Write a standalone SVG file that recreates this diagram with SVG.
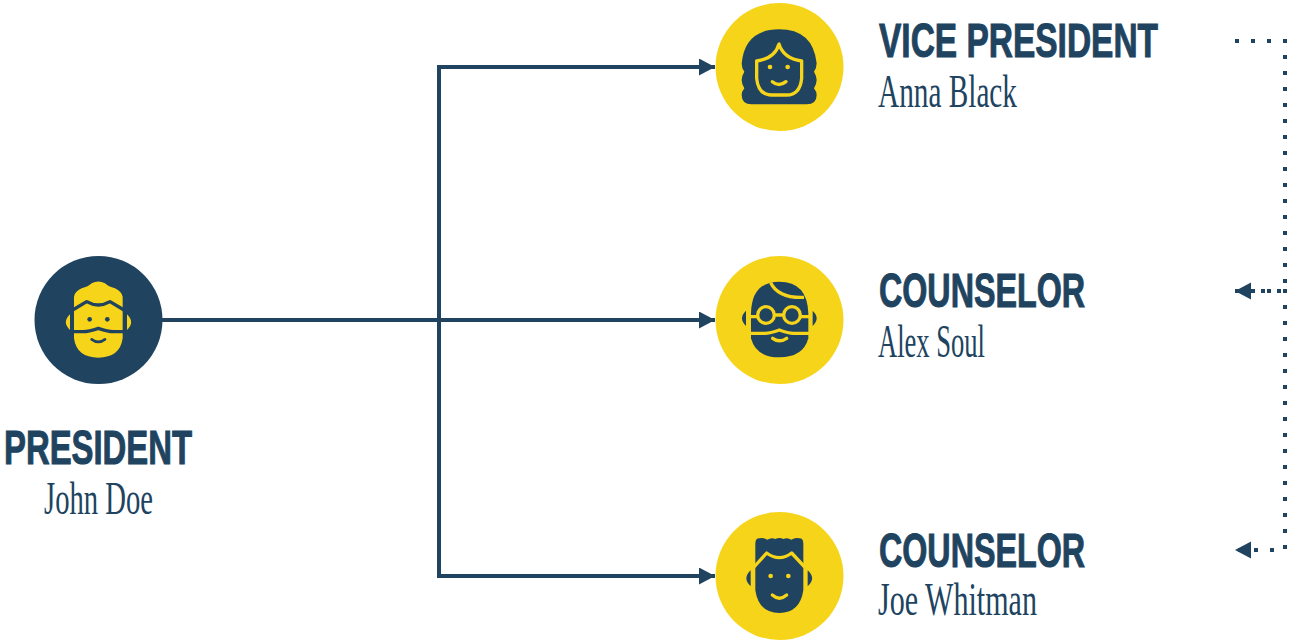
<svg xmlns="http://www.w3.org/2000/svg" width="1289" height="643" viewBox="0 0 1289 643">
<style>
.navy{fill:#20435f}.yel{fill:#f6d41a}
.title{font-family:"Liberation Sans",Arial,sans-serif;font-weight:700;font-size:48px;fill:#20435f;stroke:#20435f;stroke-width:1}
.name{font-family:"Liberation Serif","Times New Roman",serif;font-size:47px;fill:#20435f}
.ln{fill:none;stroke:#20435f;stroke-width:4}
.dot{fill:none;stroke:#20435f;stroke-width:4;stroke-dasharray:4 12}
.sy{fill:none;stroke:#f6d41a;stroke-width:10;stroke-linecap:round;stroke-linejoin:round}
.sn{fill:none;stroke:#20435f;stroke-width:8;stroke-linecap:round;stroke-linejoin:round}
</style>
<defs>
<marker id="ah" markerUnits="userSpaceOnUse" markerWidth="16" markerHeight="18" refX="16" refY="8.500" orient="auto"><path d="M0 0L16 8.500L0 17z" fill="#20435f"/></marker>
</defs>
<g id="connectors">
<path class="ln" d="M162 320H715" marker-end="url(#ah)"/>
<path class="ln" d="M715 67H439V576H715" marker-end="url(#ah)"/>
<path class="ln" d="M439 67H715" marker-end="url(#ah)"/>
<path class="dot" d="M1235 41H1285V291H1235" marker-end="url(#ah)"/>
<path class="dot" d="M1287 291H1235"/>
<path class="dot" d="M1285 289V550H1235" marker-end="url(#ah)"/>
</g>
<g id="president">
<circle class="navy" cx="98.500" cy="320" r="64"/>
<g transform="translate(20,245) scale(.3333)">
<path class="yel" d="M162 195V155Q164 140 185 130Q205 125 215 115Q235 104 255 115Q265 125 285 130Q305 140 308 155V280Q300 338 235 338Q170 338 162 280Z"/>
<path class="yel" d="M150 208Q125 232 150 255ZM321 208Q346 232 321 255Z"/>
<path class="sn" style="stroke-width:10;stroke-linecap:butt" d="M158 195L200 170Q235 190 270 170L312 195M158 260H190Q205 260 235 250Q265 260 280 260H312"/>
<circle class="navy" cx="209" cy="223" r="7"/><circle class="navy" cx="262" cy="223" r="7"/>
<path class="sn" d="M215 283Q235 298 255 283"/>
</g>
<text class="title" x="4" y="463.500" textLength="188" lengthAdjust="spacingAndGlyphs">PRESIDENT</text>
<text class="name" x="44" y="514" textLength="109" lengthAdjust="spacingAndGlyphs">John Doe</text>
</g>
<g id="vice-president">
<circle class="yel" cx="779.500" cy="67" r="64"/>
<g transform="translate(700,0) scale(.3333)">
<path class="navy" d="M155 313Q125 313 125 285Q125 275 133 265Q125 252 125 240Q125 228 133 215Q125 205 125 190Q135 88 237 88Q339 88 350 190Q350 205 342 215Q350 228 350 240Q350 252 342 265Q350 275 350 285Q350 313 320 313Z"/>
<path class="sy" d="M237 132Q225 175 170 183V235Q175 285 215 285H260Q300 285 305 235V183Q250 175 237 132Z"/>
<circle class="yel" cx="210" cy="201" r="7"/><circle class="yel" cx="263" cy="201" r="7"/>
<path class="sy" d="M217 245Q237 262 258 245"/>
</g>
<text class="title" x="879" y="56.500" textLength="279" lengthAdjust="spacingAndGlyphs">VICE PRESIDENT</text>
<text class="name" x="878" y="107" textLength="139" lengthAdjust="spacingAndGlyphs">Anna Black</text>
</g>
<g id="counselor-alex">
<circle class="yel" cx="779.500" cy="320" r="64"/>
<g transform="translate(700,250) scale(.3333)">
<path class="navy" d="M153 265V190Q155 95 238 95Q322 95 325 190V265Q310 322 238 322Q168 322 153 265Z"/>
<path class="navy" d="M138 182Q114 205 138 228ZM338 182Q362 205 338 228Z"/>
<path class="sy" style="stroke-linecap:butt" d="M212 98Q235 145 312 142M150 200H172M224 195H250M302 200H328M150 250H195Q210 250 238 240Q266 250 280 250H328"/>
<circle cx="198" cy="195" r="25" fill="#20435f" stroke="#f6d41a" stroke-width="10"/>
<circle cx="276" cy="195" r="25" fill="#20435f" stroke="#f6d41a" stroke-width="10"/>
<path class="sy" d="M218 265Q238 280 260 265"/>
</g>
<text class="title" x="879" y="306.500" textLength="206" lengthAdjust="spacingAndGlyphs">COUNSELOR</text>
<text class="name" x="878" y="357" textLength="107" lengthAdjust="spacingAndGlyphs">Alex Soul</text>
</g>
<g id="counselor-joe">
<circle class="yel" cx="779.500" cy="576" r="64"/>
<g transform="translate(700,503) scale(.3333)">
<path class="navy" d="M166 262V122Q166 106 178 106Q190 102 202 110Q214 102 226 108Q238 102 250 108Q262 102 274 110Q286 102 298 106Q310 106 310 122V262Q300 330 238 330Q176 330 166 262Z"/>
<path class="navy" d="M152 202Q126 226 152 250ZM323 202Q350 226 323 250Z"/>
<path class="sy" style="stroke-linecap:butt" d="M162 192L200 150Q238 178 275 150L314 192"/>
<circle class="yel" cx="212" cy="219" r="7"/><circle class="yel" cx="265" cy="219" r="7"/>
<path class="sy" d="M217 276Q238 295 260 276"/>
</g>
<text class="title" x="879" y="566.500" textLength="206" lengthAdjust="spacingAndGlyphs">COUNSELOR</text>
<text class="name" x="878" y="615" textLength="159" lengthAdjust="spacingAndGlyphs">Joe Whitman</text>
</g>
</svg>
